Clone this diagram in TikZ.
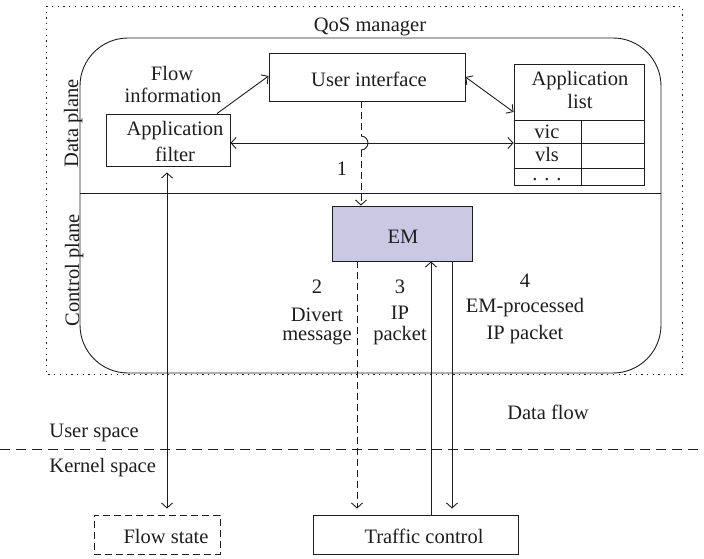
\documentclass[tikz,border=0pt]{standalone}
\usepackage{fontspec}
\setmainfont{Liberation Serif}
\usetikzlibrary{arrows.meta,calc}
\definecolor{emfill}{RGB}{203,200,228}
\definecolor{ink}{RGB}{30,30,30}
\begin{document}
\begin{tikzpicture}[x=1pt,y=-1pt,
  font=\fontsize{20.5}{23}\selectfont,
  line width=0.9pt, draw=ink, text=ink,
  >={Straight Barb[length=5pt,width=11pt,line width=0.9pt]},
  box/.style={draw, rectangle, inner sep=0pt},
  lbl/.style={inner sep=0pt, anchor=base},
  dsh/.style={dash pattern=on 7pt off 4pt},
  dot/.style={dash pattern=on 1.3pt off 4.4pt}
]
\useasboundingbox (0,0) rectangle (704,558);

% frames
\draw[dot] (46,6) rectangle (682,374);
\draw[rounded corners=48pt] (80,38) rectangle (661,373);
\draw (80,193) -- (661,193);
\draw[dash pattern=on 10pt off 6pt] (0,449) -- (704,449);

% boxes
\node[box, minimum width=196pt, minimum height=48pt] (ui) at (367,77) {};
\node[box, minimum width=124pt, minimum height=52pt] (af) at (168,140) {};
\node[box, minimum width=130pt, minimum height=121pt] (al) at (579,124.5) {};
\node[box, fill=emfill, minimum width=140pt, minimum height=55pt] (em) at (402,233.5) {};
\node[box, minimum width=205pt, minimum height=39pt] (tc) at (415.5,534.5) {};
\node[box, dsh, minimum width=126pt, minimum height=39pt] (fs) at (157,534.5) {};

% application list table
\coordinate (r1) at (0,120);
\coordinate (r2) at (0,143);
\coordinate (r3) at (0,168);
\coordinate (cx) at (581,0);
\draw (al.west |- r1) -- (al.east |- r1);
\draw (al.west |- r2) -- (al.east |- r2);
\draw (al.west |- r3) -- (al.east |- r3);
\draw (cx |- r1) -- (cx |- al.south);

% labels
\node[lbl] (tqos) at (370,31) {QoS manager};
\node[lbl] (tflow1) at (172,80) {Flow};
\node[lbl] (tflow2) at (173,102) {information};
\node[lbl] (tui) at (369,86) {User interface};
\node[lbl] (taf1) at (175,135) {Application};
\node[lbl] (taf2) at (175,161) {filter};
\node[lbl] (tal1) at (580,85) {Application};
\node[lbl] (tal2) at (580,108) {list};
\node[lbl] (tvic) at (547,138) {vic};
\node[lbl] (tvls) at (547,161) {vls};
\node[lbl] (tdots) at (547,180) {.\,\,.\,\,.};
\node[lbl] (tem) at (403,243) {EM};
\node[lbl] (tone) at (342,175) {1};
\node[lbl] (ttwo) at (317,293) {2};
\node[lbl] (tdiv1) at (317,321) {Divert};
\node[lbl] (tdiv2) at (317,340) {message};
\node[lbl] (tthree) at (400,293) {3};
\node[lbl] (tip1) at (400,319) {IP};
\node[lbl] (tip2) at (400,340) {packet};
\node[lbl] (tfour) at (525,287) {4};
\node[lbl] (tep1) at (525,312) {EM-processed};
\node[lbl] (tep2) at (525,339) {IP packet};
\node[lbl] (tdf) at (548,419) {Data flow};
\node[lbl, anchor=base west] (tus) at (49,437) {User space};
\node[lbl, anchor=base west] (tks) at (49,472) {Kernel space};
\node[lbl] (tfs) at (166,543) {Flow state};
\node[lbl] (ttc) at (424,543) {Traffic control};
\node[lbl, anchor=base west, rotate=90] (tdp) at (78,168) {Data plane};
\node[lbl, anchor=base west, rotate=90] (tcp) at (79,327) {Control plane};

% connectors
\coordinate (fa) at (217,0);
\coordinate (ua) at (0,76);
\draw[->] (af.north -| fa) -- (ui.west |- ua);
\coordinate (ub) at (0,112);
\draw[<->] (ui.east) -- (al.west |- ub);
\coordinate (hy) at (0,143);
\draw[<->] (af.east |- hy) -- (al.west |- hy);
\coordinate (vx) at (167,0);
\draw[<->, shorten <=6pt, shorten >=6pt] (af.south -| vx) -- (fs.north -| vx);
% dashed with hop
\coordinate (dx) at (361,0);
\coordinate (h1) at (361,136);
\coordinate (h2) at (361,150);
\draw[dsh] (ui.south -| dx) -- (h1);
\draw (h1) arc[start angle=90, end angle=-90, radius=7pt];
\draw[dsh, ->] (h2) -- (em.north -| dx);
% EM to traffic control
\coordinate (x1) at (357,0);
\coordinate (x2) at (431,0);
\coordinate (x3) at (452,0);
\draw[dsh, ->, shorten >=6pt] (em.south -| x1) -- (tc.north -| x1);
\draw[->] (tc.north -| x2) -- (em.south -| x2);
\draw[->, shorten >=6pt] (em.south -| x3) -- (tc.north -| x3);
\end{tikzpicture}
\end{document}
